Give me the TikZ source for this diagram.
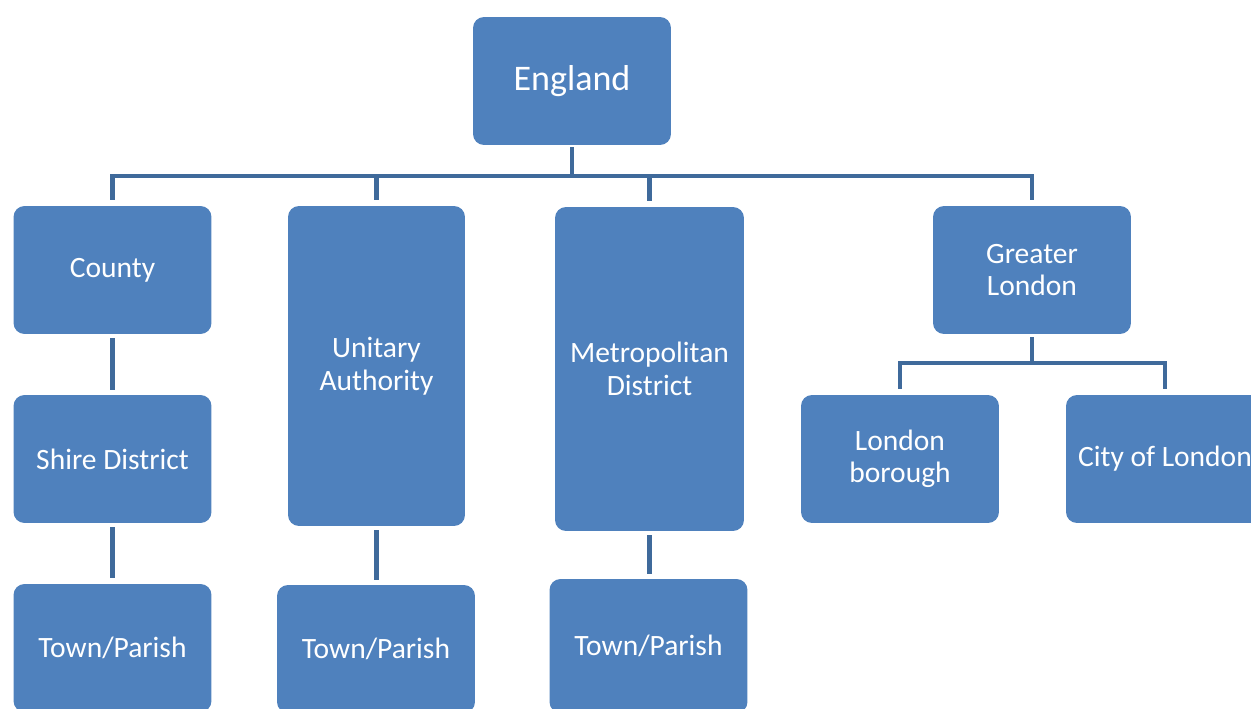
\documentclass[tikz,border=0pt]{standalone}
\usepackage{fontspec}
\setmainfont{Carlito}
\definecolor{boxblue}{HTML}{4F81BD}
\definecolor{linkblue}{HTML}{3F6A9B}

\begin{document}
\begin{tikzpicture}[x=0.02cm, y=-0.02cm,
    every node/.style={rectangle, rounded corners=0.22cm, fill=boxblue, text=white, inner sep=0pt,
      align=center, minimum width=3.96cm, minimum height=2.56cm, font=\fontsize{16.8}{18.5}\selectfont},
    link/.style={draw=linkblue, line width=0.095cm}]
  \useasboundingbox (0,0) rectangle (1251,709);
  \clip (0,0) rectangle (1251,709);
  % England and its four kinds of area
  \node[font=\fontsize{20.5}{24}\selectfont] (england) at (572,81) {England};
  \node (county) at (112.5,270) {County};
  \node[minimum width=3.54cm, minimum height=6.4cm] (unitary) at (376.5,366) {Unitary\\Authority};
  \node[minimum width=3.78cm, minimum height=6.48cm] (metro) at (649.5,369) {Metropolitan\\District};
  \node (greater) at (1032,270) {Greater\\London};
  % lower tiers
  \node (shire) at (112.5,459) {Shire District};
  \node (borough) at (900,459) {London\\borough};
  \node (city) at (1165,459) {City of London};
  \node (town1) at (112.5,648) {Town/Parish};
  \node (town2) at (376,649) {Town/Parish};
  \node[minimum height=2.68cm] (town3) at (648.5,646) {Town/Parish};
  % forks
  \path (572,176) coordinate (bus);
  \path (1032,363) coordinate (lbus);
  \foreach \c in {county,unitary,metro,greater} {
    \draw[link, shorten <=0.04cm, shorten >=0.12cm] (england.south) -- (england.south |- bus) -| (\c.north);
  }
  \foreach \c in {borough,city} {
    \draw[link, shorten <=0.06cm, shorten >=0.12cm] (greater.south) -- (greater.south |- lbus) -| (\c.north);
  }
  % single links
  \draw[link, shorten <=0.08cm, shorten >=0.1cm] (county.south) -- (shire.north);
  \draw[link, shorten <=0.08cm, shorten >=0.12cm] (shire.south) -- (shire.south |- town1.north);
  \draw[link, shorten <=0.08cm, shorten >=0.1cm] (unitary.south) -- (unitary.south |- town2.north);
  \draw[link, shorten <=0.08cm, shorten >=0.1cm] (metro.south) -- (metro.south |- town3.north);
\end{tikzpicture}
\end{document}
